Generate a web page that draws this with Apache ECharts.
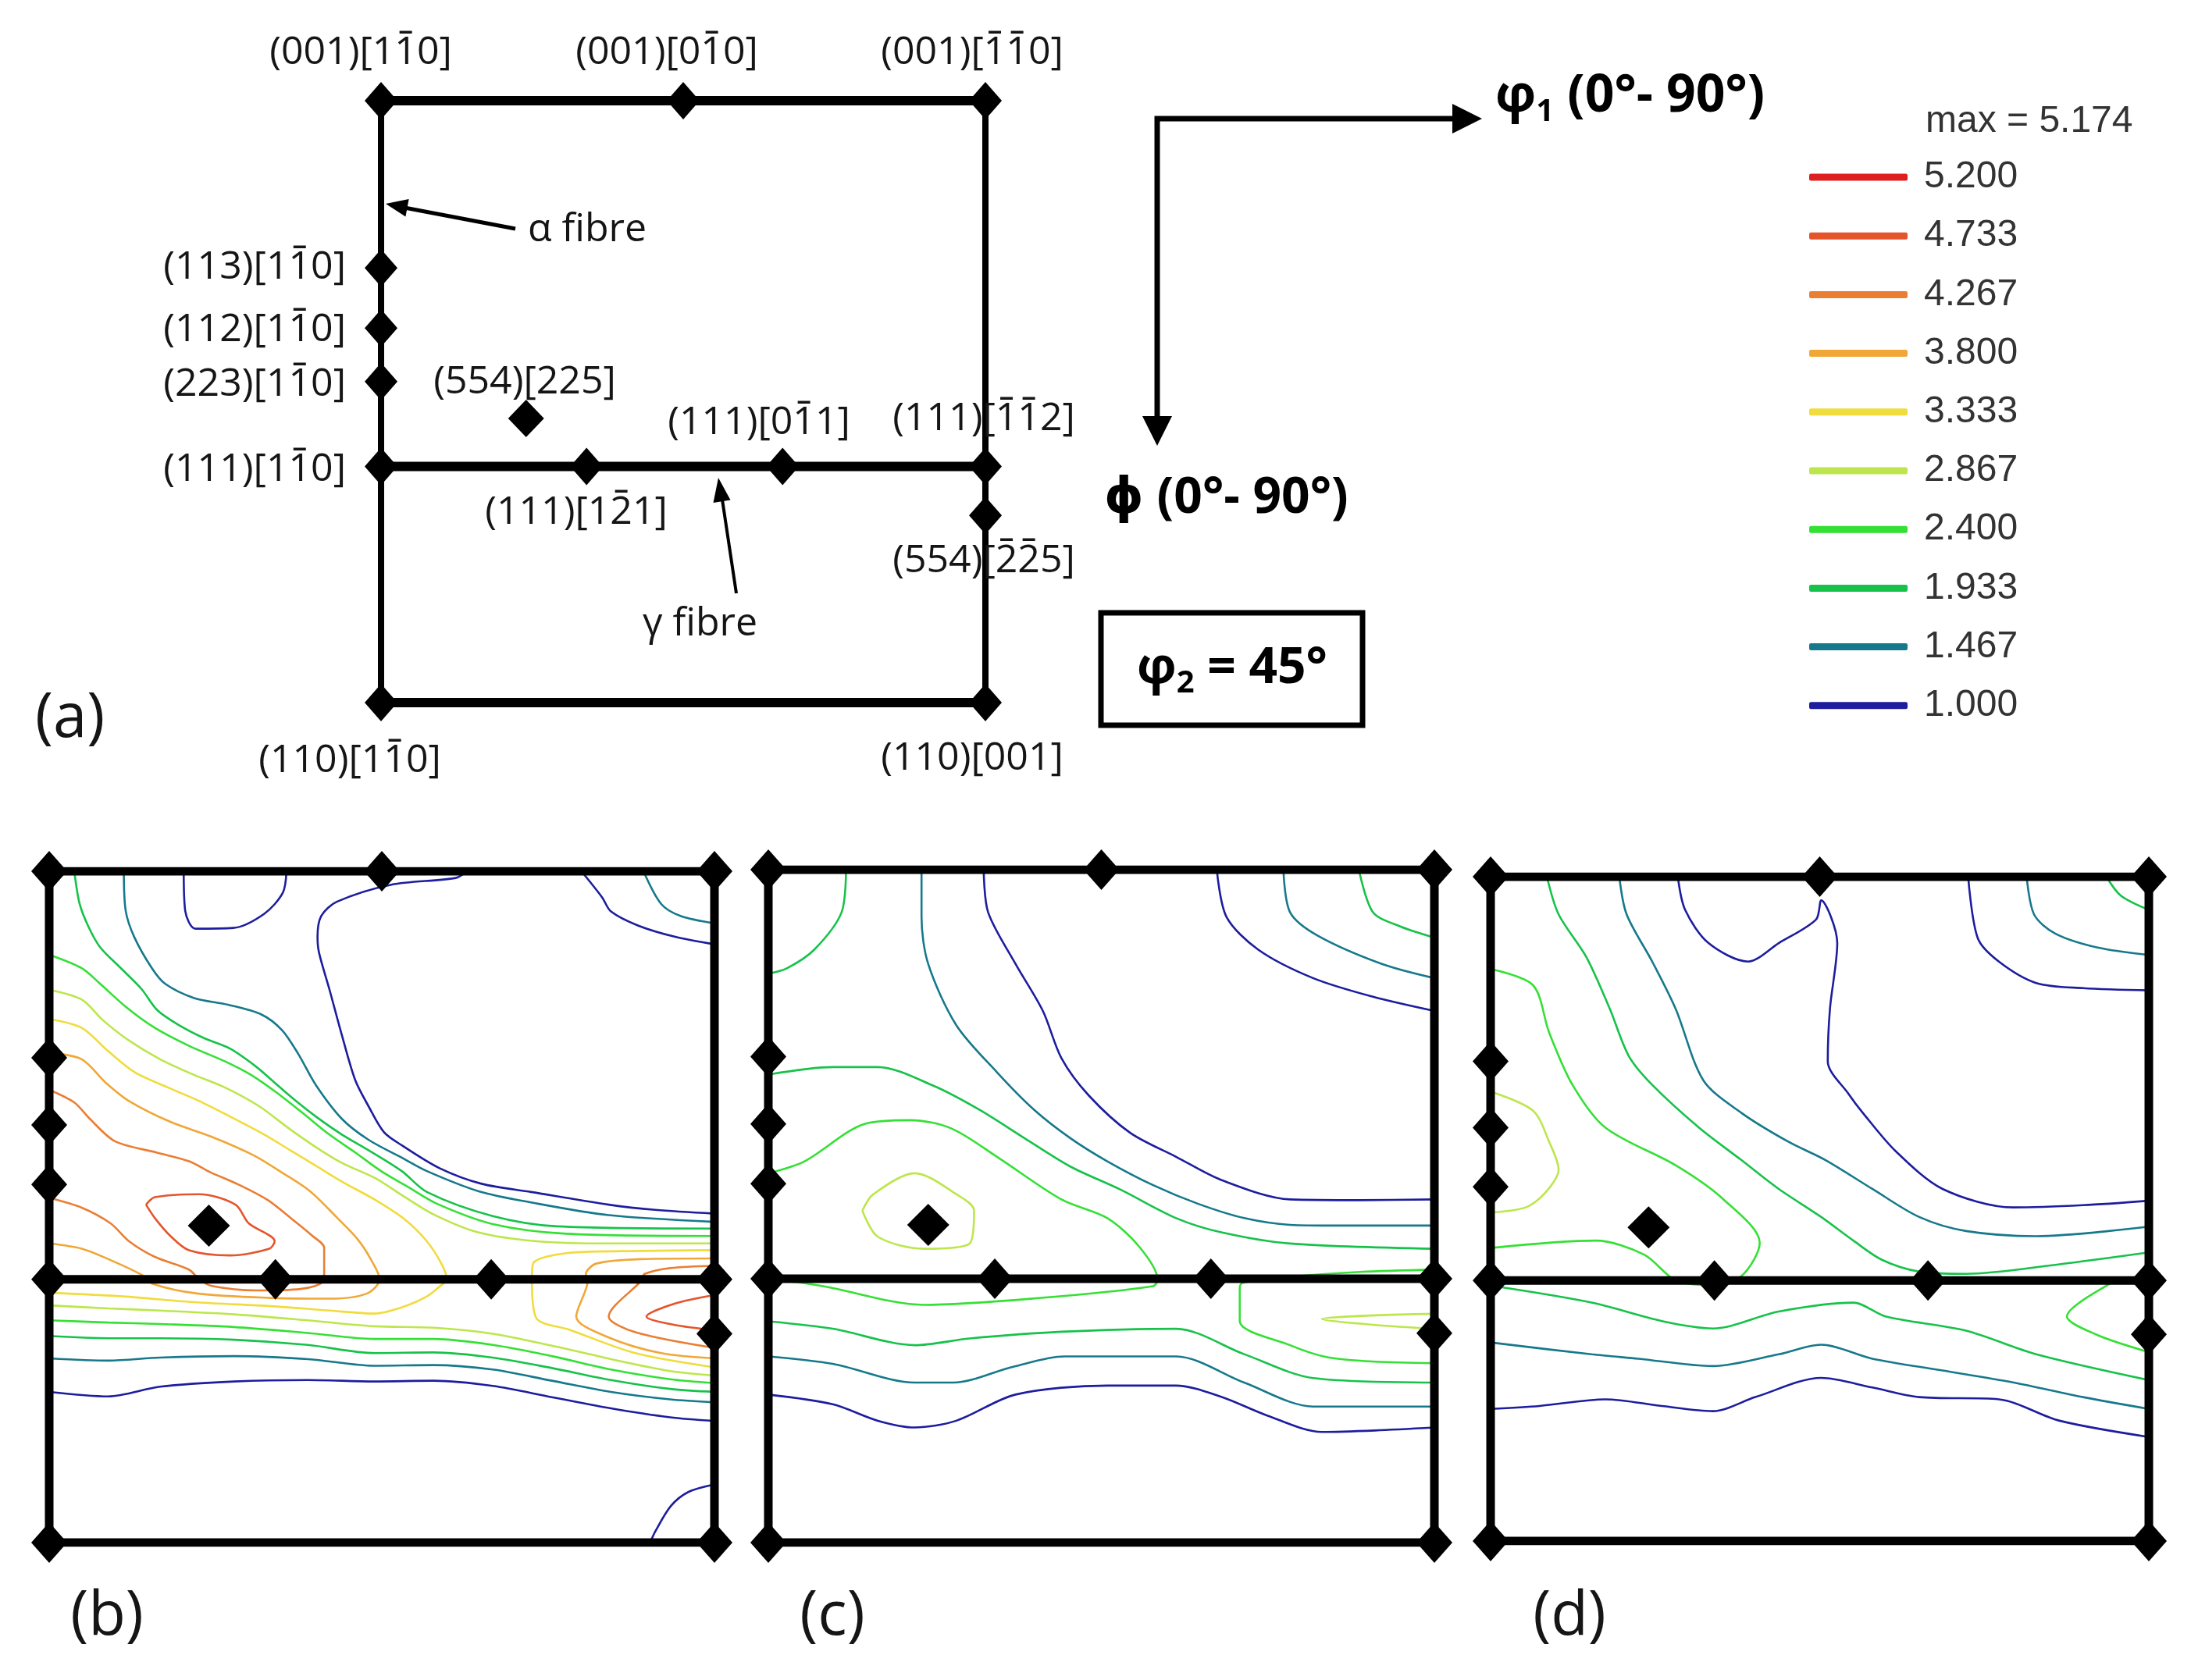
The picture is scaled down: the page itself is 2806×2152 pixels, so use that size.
<!DOCTYPE html>
<html><head><meta charset="utf-8">
<script src="https://cdn.jsdelivr.net/npm/echarts@6/dist/echarts.min.js"></script>
<style>html,body{margin:0;padding:0;background:#fff}#c{width:2806px;height:2152px}</style>
</head><body><div id="c"></div>
<script>
// ---- contour levels ----
const levelNames = ['1.000','1.467','1.933','2.400','2.867','3.333','3.800','4.267','4.733','5.200'];
const levelColors = ['#1d1d9e','#16798b','#17c24a','#35e035','#bde64c','#f0dc3c','#f0a737','#ea7e33','#e4552c','#dd1f1f'];
const maxLabel = 'max = 5.174';

// ---- schematic lines (phi1, PHI in degrees) ----
const gammaPHI = 54.7;
const frameH = [[[0,0],[90,0]], [[0,gammaPHI],[90,gammaPHI]], [[0,90],[90,90]]];
const frameV = [[[0,0],[0,90]], [[90,0],[90,90]]];

// ---- ideal orientations (diamonds) ----
const diamondPhi1 = [0, 45, 90, 0, 0, 0, 21.6, 0, 30.6, 59.8, 90, 90, 0, 90];
const diamondPHI  = [0, 0, 0, 25, 34, 42, 47.5, 54.7, 54.7, 54.7, 54.7, 62, 90, 90];

// ---- panel (b) contours ----
const b_1000 = [
 [[18.2,0],[18.4,5.3],[19.8,7.7],[24.9,7.6],[29.1,5.7],[31.6,2.9],[32.1,0]],
 [[56.5,0],[55,0.9],[46.3,1.8],[38.9,4.1],[36.8,6.0],[36.3,8.8],[36.5,10.9],[37.9,15.8],[39.6,22.0],[41.4,28.0],[43.2,31.5],[45.3,35.0],[47.8,36.8],[52.8,39.8],[58.5,41.9],[65.2,43.0],[75.7,44.7],[82,45.4],[90,45.9]],
 [[72.0,0],[74.8,3.5],[76.0,5.4],[79.7,7.3],[84.7,8.8],[90,9.8]],
 [[0,69.8],[8,70.4],[15,69.1],[25,68.4],[35,68.2],[44,68.4],[52,68.3],[60,69.0],[68,70.5],[76,72.0],[84,73.2],[90,73.7]],
 [[81.3,90],[82,88.5],[84.1,85.1],[86.5,83.2],[90,82.2]]
];
const b_1467 = [
 [[10.1,0],[10.35,5.3],[11.5,8.8],[13.9,13.0],[15.7,15.1],[19.6,17.0],[24.2,17.9],[28.7,19.2],[31.5,21.3],[33.7,24.5],[36.1,28.7],[39.6,33.2],[43.2,36.0],[47.7,38.4],[51.1,40.2],[58.1,42.9],[65.2,44.4],[75.7,46.1],[90,47.0]],
 [[80.4,0],[82.8,4.4],[85.4,6.0],[90,7.0]],
 [[0,65.3],[8,65.6],[15,65.2],[25,65.0],[35,65.4],[44,66.3],[52,66.2],[60,66.8],[68,68.3],[76,69.8],[84,70.8],[90,71.2]]
];
const b_1933 = [
 [[3.4,0],[4.1,4.3],[5.3,7.4],[6.9,10.2],[9.7,13.0],[12.5,15.8],[14.6,18.6],[17.5,20.6],[21,22.4],[24.5,23.8],[28,26.2],[30.1,28.0],[32.9,30.4],[36.1,32.9],[39.6,35.3],[43.2,37.4],[47.7,40.2],[51.1,43.0],[59.9,46.2],[68.7,47.6],[90,47.9]],
 [[0,62.3],[8,62.6],[15,62.6],[25,62.8],[35,63.5],[44,64.6],[52,64.5],[60,65.2],[68,66.6],[76,68.2],[84,69.4],[90,69.8]]
];
const b_2400 = [
 [[0,11.2],[4.4,13.0],[6.9,15.1],[10.4,18.2],[14.3,21.0],[18.9,23.4],[23.8,25.5],[27.3,27.3],[30.8,29.7],[34.4,32.5],[37.9,35.3],[41.4,37.7],[44.9,40.2],[48.5,42.3],[52.5,44.6],[60,47.3],[70,48.6],[90,48.9]],
 [[0,60.2],[8,60.5],[15,60.7],[25,61.1],[35,61.9],[44,62.7],[52,62.7],[60,63.5],[68,65.0],[76,66.8],[84,68.1],[90,68.6]]
];
const b_2867 = [
 [[0,15.9],[4.4,17.2],[7.3,20.0],[10.8,22.7],[15,25.2],[19.6,27.3],[23.8,29.0],[28.4,31.5],[32.6,34.6],[36.1,37.0],[39.6,39.1],[44.2,41.2],[48,43.6],[52,46],[58,48.4],[66,49.6],[76,49.9],[90,49.9]],
 [[0,58.2],[8,58.6],[15,58.9],[25,59.4],[35,60.2],[44,61.0],[52,61.2],[60,62.0],[68,63.6],[76,65.4],[84,67.0],[90,67.6]]
];
const b_3333 = [
 [[0,19.8],[4.4,21.0],[7.96,24.1],[11.5,26.9],[16.1,29.0],[20.3,30.8],[24.5,32.9],[29.1,35.3],[32.6,37.4],[36.1,39.5],[39.6,41.6],[44,44],[48,46.6],[51,49.5],[53,52.5],[53.8,54.7],[52.9,55.6],[51.1,57.0],[47.6,58.5],[44,59.3],[38,58.9],[30,58.3],[20,57.8],[10,57.0],[0,56.5]],
 [[90,50.8],[80,50.9],[70,51.2],[65.5,52.5],[65.3,54.7],[65.9,59.9],[70.5,61.5],[79.3,64.6],[90,66.5]]
];
const b_3800 = [
 [[0,24.3],[4.4,25.2],[7.6,28.3],[10.8,30.8],[16.4,33.6],[22,35.6],[27.7,38.1],[31.5,40.4],[35.3,42.9],[39,46.5],[41.7,49.3],[43.5,52],[44.7,54.7],[43,56.6],[38,57.3],[30,57.2],[20,56.6],[14,55.3],[12.5,54.1],[8,52.0],[4.4,50.6],[0,49.9]],
 [[90,51.9],[80,52.0],[74,52.6],[72.6,54],[72.9,54.7],[71.3,59.7],[75.7,62.5],[82.8,64.6],[90,65.3]]
];
const b_4267 = [
 [[0,29.3],[3.4,31.0],[5.5,33.2],[8.9,36.2],[14.5,37.7],[19,38.9],[21.7,40.3],[25.6,42.0],[29.6,44.1],[32.8,46.6],[35.5,48.8],[37.2,50.5],[37.2,54.7],[34,56.0],[28,56.2],[22,55.6],[20.3,54.7],[18.9,53.4],[14.3,51.7],[10.8,49.6],[8.3,47.2],[4.4,45.1],[0,43.8]],
 [[90,52.9],[84,53.2],[80.5,54.0],[80.3,54.7],[75.7,59.7],[79.3,61.8],[90,63.9]]
];
const b_4733 = [
 [[13.1,44.7],[14.3,43.7],[20.3,43.3],[25.2,44.7],[27.0,47.2],[30.5,49.6],[29.8,50.6],[24.5,51.5],[18.9,50.8],[16.4,48.9],[14.3,46.5],[13.1,44.7]],
 [[90,56.8],[84.5,58],[80.8,59.7],[84.5,60.8],[90,61.5]]
];

// ---- panel (c) contours ----
const c_1000 = [
 [[29.1,0],[29.7,5.7],[33.4,12.6],[37.1,18.9],[39.6,25.2],[43.3,30.2],[48.9,35.2],[55.1,38.4],[61.2,41.5],[70.5,44.1],[80,44.2],[90,44.1]],
 [[60.6,0],[61.9,6.3],[66.2,10.7],[73.6,14.5],[81.7,17.0],[90,18.9]],
 [[0,70.2],[8.7,71.5],[14.8,73.7],[19.8,74.6],[25.4,73.7],[33.4,70.2],[45.8,69.0],[55.1,69.0],[61.2,70.5],[67.4,73.0],[74.8,75.2],[82,75.0],[90,74.6]]
];
const c_1467 = [
 [[20.7,0],[20.7,6.3],[21.6,12.6],[25.4,20.8],[30.9,27.1],[35.9,32.1],[40.8,35.9],[45.8,39.0],[52.0,42.2],[58.1,44.7],[64.3,46.6],[70.5,47.5],[76.7,47.6],[90,47.6]],
 [[69.6,0],[70.5,5.7],[74.2,8.8],[82.9,12.6],[90,14.5]],
 [[0,65.1],[8.7,66.1],[19.8,68.6],[25,68.6],[33,66.5],[40,65.1],[55.1,65.1],[64.3,68.6],[73.6,71.8],[90,71.8]]
];
const c_1933 = [
 [[10.5,0],[9.9,5.7],[6.2,10.7],[2.5,13.2],[0,13.9]],
 [[79.8,0],[81.7,5.7],[85.4,7.6],[90,9.1]],
 [[0,27.4],[8.7,26.4],[14.8,26.4],[22.3,28.9],[28.5,32.1],[34.6,35.9],[40.8,39.7],[47.6,42.8],[55.1,46.6],[61.2,48.5],[70.5,50.0],[90,50.7]],
 [[0,60.4],[8.7,61.4],[19.8,63.6],[27.2,62.7],[39.6,61.8],[55.1,61.4],[64.3,64.8],[73.6,68.0],[90,68.6]]
];
const c_2400 = [
 [[0,40.6],[4.9,39.0],[13.0,34.0],[19.2,33.5],[24.7,34.6],[30.9,38.4],[39.6,44.1],[45.8,46.6],[50.1,50.4],[52.6,54.8],[52,55.7],[36.5,57.3],[21,58.2],[7.4,55.7],[3,55.1],[0,55.0]],
 [[90,53.5],[80,53.8],[70,54.5],[64,55.3],[63.7,56],[63.7,60.4],[70.5,63.6],[75.5,65.2],[82,65.8],[90,66.0]]
];
const c_2867 = [
 [[12.7,45.6],[14.2,43.4],[19.8,40.6],[25.4,43.4],[27.8,45.6],[27.2,50.0],[21.0,50.7],[14.8,49.1],[12.7,45.6]],
 [[90,59.4],[82,59.6],[74.8,60.1],[82,60.9],[90,61.4]]
];

// ---- panel (d) contours ----
const d_1000 = [
 [[25.6,0],[26.6,4.5],[29.8,9.0],[35.2,11.5],[39.4,9.0],[44.5,5.8],[45.2,3.2],[47.4,9.0],[46.4,17.9],[46.1,25.0],[49.0,29.5],[50.9,32.0],[55.4,37.2],[61.8,42.3],[71.4,44.8],[81.0,44.5],[90,43.9]],
 [[65.3,0],[66.6,8.3],[69.5,11.5],[74.6,14.4],[81.0,15.1],[90,15.4]],
 [[0,72.1],[6.7,71.7],[15.7,70.8],[23.4,71.7],[30.4,72.4],[36.2,70.5],[45.2,67.9],[52.2,69.2],[58.6,70.5],[69.5,70.8],[77.8,73.7],[90,75.9]]
];
const d_1467 = [
 [[17.6,0],[18.6,5.1],[22.1,11.5],[25.3,17.9],[29.1,27.6],[34.3,32.0],[40.7,35.9],[45.8,38.4],[52.2,42.3],[58.6,46.1],[65.0,48.0],[74.6,48.7],[90,47.4]],
 [[73.3,0],[74.3,5.1],[77.2,7.7],[83.0,9.6],[90,10.6]],
 [[0,63.1],[13.8,64.7],[20.2,65.3],[30.4,66.3],[39.4,64.7],[45.2,63.4],[52.2,65.3],[61.8,66.9],[71.4,68.5],[81.0,70.5],[90,72.1]]
];
const d_1933 = [
 [[7.7,0],[9.3,5.1],[13.1,10.9],[16.3,17.9],[18.9,24.3],[22.1,28.2],[28.5,34.0],[34.3,38.4],[39.4,42.3],[45.2,46.1],[49.6,49.3],[53.5,51.9],[58.6,53.5],[65.0,53.8],[77.8,52.5],[90,50.9]],
 [[84.2,0],[86.2,2.6],[90,4.5]],
 [[0,55.4],[13.8,57.7],[23.4,60.2],[30.4,61.2],[39.4,58.9],[49.6,57.7],[54.1,59.6],[65.0,61.5],[74.6,64.7],[90,68.2]]
];
const d_2400 = [
 [[0,12.5],[5.8,14.7],[8.0,21.1],[11.2,28.2],[15.7,34.0],[25.3,39.1],[31.7,43.6],[36.8,49.6],[34.3,54.1],[30,55.3],[25.3,54.7],[21.0,51.2],[14.4,49.3],[0,50.3]],
 [[90,54.2],[87,54.5],[84.2,55.4],[78.8,59.6],[83,62.1],[90,64.4]]
];
const d_2867 = [
 [[0,29.1],[5.8,31.7],[8.0,35.9],[9.3,39.7],[7.4,42.9],[4.8,44.8],[0,45.5]]
];

const panelB = [b_1000, b_1467, b_1933, b_2400, b_2867, b_3333, b_3800, b_4267, b_4733, []];
const panelC = [c_1000, c_1467, c_1933, c_2400, c_2867, [], [], [], [], []];
const panelD = [d_1000, d_1467, d_1933, d_2400, d_2867, [], [], [], [], []];

// ---- orientation labels ('~' marks a barred index) ----
const orientLabels = ['(001)[1~10]', '(001)[0~10]', '(001)[~1~10]',
  '(113)[1~10]', '(112)[1~10]', '(223)[1~10]', '(111)[1~10]',
  '(554)[225]', '(111)[0~11]', '(111)[~1~12]', '(111)[1~21]', '(554)[~2~25]',
  '(110)[1~10]', '(110)[001]'];

// ---- build option ----
const grids = [
  {left: 488, top: 129, width: 774, height: 771},
  {left: 63, top: 1116, width: 852, height: 860},
  {left: 984, top: 1114, width: 853, height: 862},
  {left: 1909, top: 1123, width: 843, height: 851}
];
const series = [];
function frame(gi, wH, wV){
  frameH.forEach(p => series.push({type:'line', xAxisIndex:gi, yAxisIndex:gi, data:p, symbol:'none', silent:true, z:5,
    lineStyle:{color:'#000', width:wH, cap:'square'}, animation:false}));
  frameV.forEach(p => series.push({type:'line', xAxisIndex:gi, yAxisIndex:gi, data:p, symbol:'none', silent:true, z:5,
    lineStyle:{color:'#000', width:wV, cap:'square'}, animation:false}));
}
function diamonds(gi, size, bigSize){
  series.push({type:'scatter', xAxisIndex:gi, yAxisIndex:gi, symbol:'diamond',
    symbolSize: (v, p) => (p.dataIndex === 6 ? bigSize : size),
    data: diamondPhi1.map((x,i)=>[x, diamondPHI[i]]), itemStyle:{color:'#000', opacity:1}, z:6, silent:true, animation:false});
}
function contours(panel, gi){
  panel.forEach((paths, li) => paths.forEach(p => series.push({
    type:'line', name: levelNames[li], xAxisIndex:gi, yAxisIndex:gi, data:p, symbol:'none', showSymbol:false,
    smooth:0.3, silent:true, z:2, animation:false,
    lineStyle:{color: levelColors[li], width:2.6}, itemStyle:{color: levelColors[li]}
  })));
}
contours(panelB, 1); contours(panelC, 2); contours(panelD, 3);
levelNames.forEach((n, li) => series.push({type:'line', name:n, xAxisIndex:0, yAxisIndex:0, data:[],
  lineStyle:{color:levelColors[li]}, itemStyle:{color:levelColors[li]}, animation:false}));
frame(0, 12, 8); frame(1, 11, 11); frame(2, 11, 11); frame(3, 11, 11);
diamonds(0, [42,48], [46,48]); diamonds(1, [46,52], [54,54]); diamonds(2, [46,52], [54,54]); diamonds(3, [46,52], [54,54]);

const LF = '"Open Sans", "DejaVu Sans", sans-serif';
const TXT = '#151515';
function t(text, x, y, align, size){
  return {type:'text', x:x, y:y, z:10, silent:true,
    style:{text:text, fontFamily:LF, fontSize:size||50, fill:TXT, align:align||'center', textAlign:align||'center',
      verticalAlign:'middle', textVerticalAlign:'middle'}};
}
const graphics = [];
const mctx = document.createElement('canvas').getContext('2d');
function orientLabel(str, x, y, align){
  const plain = str.replace(/~/g, '');
  const bars = []; let k = 0;
  for (let i = 0; i < str.length; i++) { if (str[i] === '~') bars.push(k); else k++; }
  graphics.push(t(plain, x, y, align));
  mctx.font = '50px ' + LF; mctx.textBaseline = 'middle';
  const W = mctx.measureText(plain).width;
  const left = align === 'right' ? x - W : (align === 'left' ? x : x - W / 2);
  bars.forEach(i => {
    const pre = mctx.measureText(plain.slice(0, i)).width;
    const m = mctx.measureText(plain[i]);
    const by = y - (m.actualBoundingBoxAscent || 18) - 6;
    graphics.push({type:'line', z:10, silent:true,
      shape:{x1:left + pre + m.width * 0.22, y1:by, x2:left + pre + m.width * 0.78, y2:by},
      style:{stroke:TXT, lineWidth:3.5}});
  });
}
const orientPos = [[462,68,'center'],[854,68,'center'],[1245,68,'center'],
  [443,343,'right'],[443,423,'right'],[443,493,'right'],[443,602,'right'],
  [672,490,'center'],[972,542,'center'],[1260,537,'center'],[738,657,'center'],[1260,719,'center'],
  [448,975,'center'],[1245,972,'center']];
orientLabels.forEach((s, i) => orientLabel(s, orientPos[i][0], orientPos[i][1], orientPos[i][2]));

graphics.push(
  t('α fibre', 676, 295, 'left'), t('γ fibre', 823, 800, 'left'),
  t('(a)', 45, 922, 'left', 78), t('(b)', 137, 2072, 'center', 78), t('(c)', 1066, 2072, 'center', 78), t('(d)', 2010, 2072, 'center', 78),
  {type:'polyline', silent:true, z:10, shape:{points:[[660,293],[518,266]]}, style:{stroke:'#000', lineWidth:5, fill:null}},
  {type:'polygon', silent:true, z:10, shape:{points:[[494,261],[519.4,277.5],[523.6,255]]}, style:{fill:'#000'}},
  {type:'polyline', silent:true, z:10, shape:{points:[[943,760],[925,640]]}, style:{stroke:'#000', lineWidth:4, fill:null}},
  {type:'polygon', silent:true, z:10, shape:{points:[[920,612],[913.5,644],[935.5,640.5]]}, style:{fill:'#000'}},
  {type:'polyline', silent:true, z:10, shape:{points:[[1866,152],[1482,152],[1482,540]]}, style:{stroke:'#000', lineWidth:7, fill:null, lineJoin:'miter'}},
  {type:'polygon', silent:true, z:10, shape:{points:[[1860,133],[1898,152],[1860,171]]}, style:{fill:'#000'}},
  {type:'polygon', silent:true, z:10, shape:{points:[[1463,533],[1482,571],[1501,533]]}, style:{fill:'#000'}},
  {type:'text', silent:true, z:10, x:1915, y:124, style:{text:'{p|φ}{s|1}{p| (0°- 90°)}', align:'left', textAlign:'left', verticalAlign:'middle', textVerticalAlign:'middle',
     rich:{p:{fontFamily:LF, fontWeight:'bold', fontSize:66, fill:'#000', lineHeight:80}, s:{fontFamily:LF, fontWeight:'bold', fontSize:40, fill:'#000', lineHeight:42, verticalAlign:'bottom'}}}},
  {type:'text', silent:true, z:10, x:1414, y:639, style:{text:'ϕ (0°- 90°)', fontFamily:LF, fontWeight:'bold', fontSize:64, fill:'#000', align:'left', textAlign:'left', verticalAlign:'middle', textVerticalAlign:'middle'}},
  {type:'rect', silent:true, z:10, shape:{x:1410, y:785, width:335, height:144}, style:{fill:'none', stroke:'#000', lineWidth:7}},
  {type:'text', silent:true, z:10, x:1578, y:857, style:{text:'{p|φ}{s|2}{p| = 45°}', align:'center', textAlign:'center', verticalAlign:'middle', textVerticalAlign:'middle',
     rich:{p:{fontFamily:LF, fontWeight:'bold', fontSize:64, fill:'#000', lineHeight:78}, s:{fontFamily:LF, fontWeight:'bold', fontSize:40, fill:'#000', lineHeight:42, verticalAlign:'bottom'}}}},
  {type:'text', silent:true, z:10, x:2466, y:156, style:{text:maxLabel, fontFamily:'"Liberation Sans", Arial, sans-serif', fontSize:48, fill:'#333', align:'left', textAlign:'left', verticalAlign:'middle', textVerticalAlign:'middle'}}
);

const chart = echarts.init(document.getElementById('c'), null, {renderer:'canvas', width:2806, height:2152});
chart.setOption({
  animation:false,
  backgroundColor:'#fff',
  grid: grids,
  xAxis: grids.map((g,i)=>({gridIndex:i, type:'value', min:0, max:90, show:false})),
  yAxis: grids.map((g,i)=>({gridIndex:i, type:'value', min:0, max:90, inverse:true, show:false})),
  legend: {
    data: levelNames.slice().reverse(), orient:'vertical', left:2317, top:203, padding:0,
    itemGap:27.2, itemWidth:126, itemHeight:9, icon:'roundRect', selectedMode:false,
    textStyle:{fontFamily:'"Liberation Sans", Arial, sans-serif', fontSize:48, color:'#333', lineHeight:48, padding:[0,0,0,16]}
  },
  graphic: {elements: graphics},
  series: series
});
</script></body></html>
